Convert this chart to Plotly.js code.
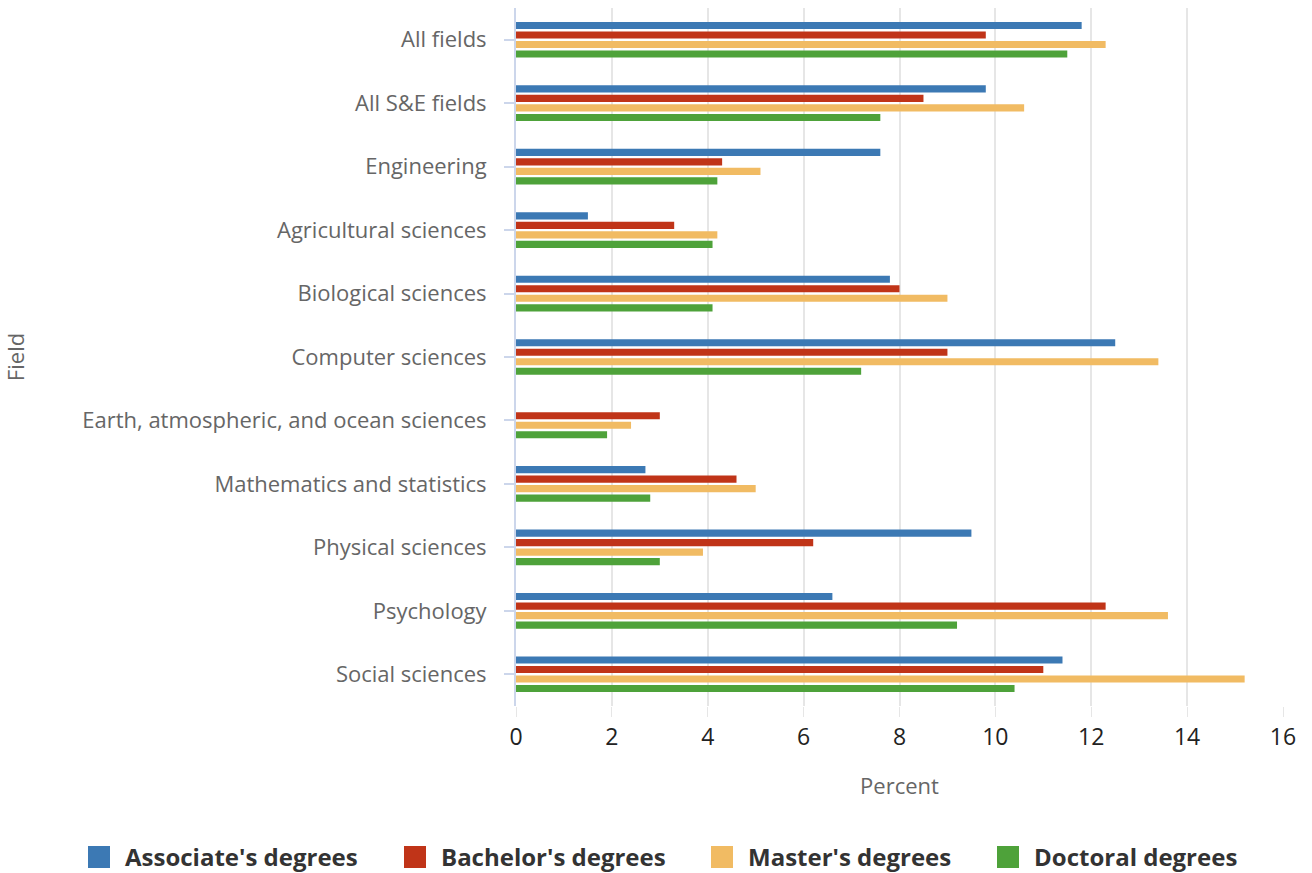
<!DOCTYPE html>
<html>
<head>
<meta charset="utf-8">
<script src="https://cdn.plot.ly/plotly-3.0.1.min.js"></script>
<style>html,body{margin:0;padding:0;background:#fff;}#chart{width:1312px;height:873px;}</style>
</head>
<body>
<div id="chart"></div>
<script>
const fields = ["All fields", "All S&E fields", "Engineering", "Agricultural sciences", "Biological sciences", "Computer sciences", "Earth, atmospheric, and ocean sciences", "Mathematics and statistics", "Physical sciences", "Psychology", "Social sciences"];
const associates = [11.8, 9.8, 7.6, 1.5, 7.8, 12.5, null, 2.7, 9.5, 6.6, 11.4];
const bachelors = [9.8, 8.5, 4.3, 3.3, 8.0, 9.0, 3.0, 4.6, 6.2, 12.3, 11.0];
const masters = [12.3, 10.6, 5.1, 4.2, 9.0, 13.4, 2.4, 5.0, 3.9, 13.6, 15.2];
const doctorals = [11.5, 7.6, 4.2, 4.1, 4.1, 7.2, 1.9, 2.8, 3.0, 9.2, 10.4];
const seriesNames = ["Associate's degrees", "Bachelor's degrees", "Master's degrees", "Doctoral degrees"];
const colors = ["#3c79b4", "#c03418", "#f1bb63", "#4ea23a"];
const xTicks = [0, 2, 4, 6, 8, 10, 12, 14, 16];

const W = 1312, H = 873;
const M = {l: 516, r: 29, t: 8, b: 167};
const pw = W - M.l - M.r, ph = H - M.t - M.b;
const px2x = px => (px - M.l) / pw;
const py2y = py => (H - M.b - py) / ph;

const values = [associates, bachelors, masters, doctorals];
const data = values.map((v, i) => ({
  type: 'bar', orientation: 'h', x: v, y: fields, name: seriesNames[i],
  marker: {color: colors[i], line: {width: 0}}, hoverinfo: 'x+y'
}));

// custom legend (one row, like the reference)
const legendLeft = [88, 404, 711, 997];
const legendY = 857;
const shapes = [], annotations = [];
seriesNames.forEach((n, i) => {
  shapes.push({type: 'rect', xref: 'paper', yref: 'paper',
    x0: px2x(legendLeft[i]), x1: px2x(legendLeft[i] + 22),
    y0: py2y(legendY + 11), y1: py2y(legendY - 11),
    fillcolor: colors[i], line: {width: 0}});
  annotations.push({xref: 'paper', yref: 'paper', x: px2x(legendLeft[i] + 35), y: py2y(legendY),
    xanchor: 'left', yanchor: 'middle', showarrow: false, text: '<b>' + n + '</b>',
    font: {size: 24, color: '#333333', family: "'Open Sans', sans-serif"}});
});

const layout = {
  width: W, height: H,
  margin: M,
  paper_bgcolor: '#ffffff', plot_bgcolor: '#ffffff',
  font: {family: "'Open Sans', sans-serif", color: '#666666'},
  barmode: 'group', bargap: 0.4, bargroupgap: 0.25,
  xaxis: {
    range: [0, 16], tickvals: xTicks, ticktext: xTicks.map(String),
    showgrid: true, gridcolor: '#e6e6e6', gridwidth: 2,
    zeroline: false, showline: false,
    ticks: 'outside', ticklen: 10, tickcolor: '#e6e6e6', tickwidth: 1,
    tickfont: {size: 23, color: '#222222'},
    title: {text: 'Percent', font: {size: 22, color: '#666666'}, standoff: 28}
  },
  yaxis: {
    autorange: 'reversed', type: 'category',
    showgrid: false, zeroline: false,
    showline: true, linecolor: '#ccd6eb', linewidth: 2,
    ticks: 'outside', ticklen: 10, tickcolor: '#ccd6eb', tickwidth: 2,
    ticklabelstandoff: 13,
    tickfont: {size: 22, color: '#666666'},
    title: {text: 'Field', font: {size: 22, color: '#666666'}, standoff: 55}
  },
  showlegend: false,
  shapes: shapes,
  annotations: annotations
};

Plotly.newPlot('chart', data, layout, {displayModeBar: false, staticPlot: true});
</script>
</body>
</html>
